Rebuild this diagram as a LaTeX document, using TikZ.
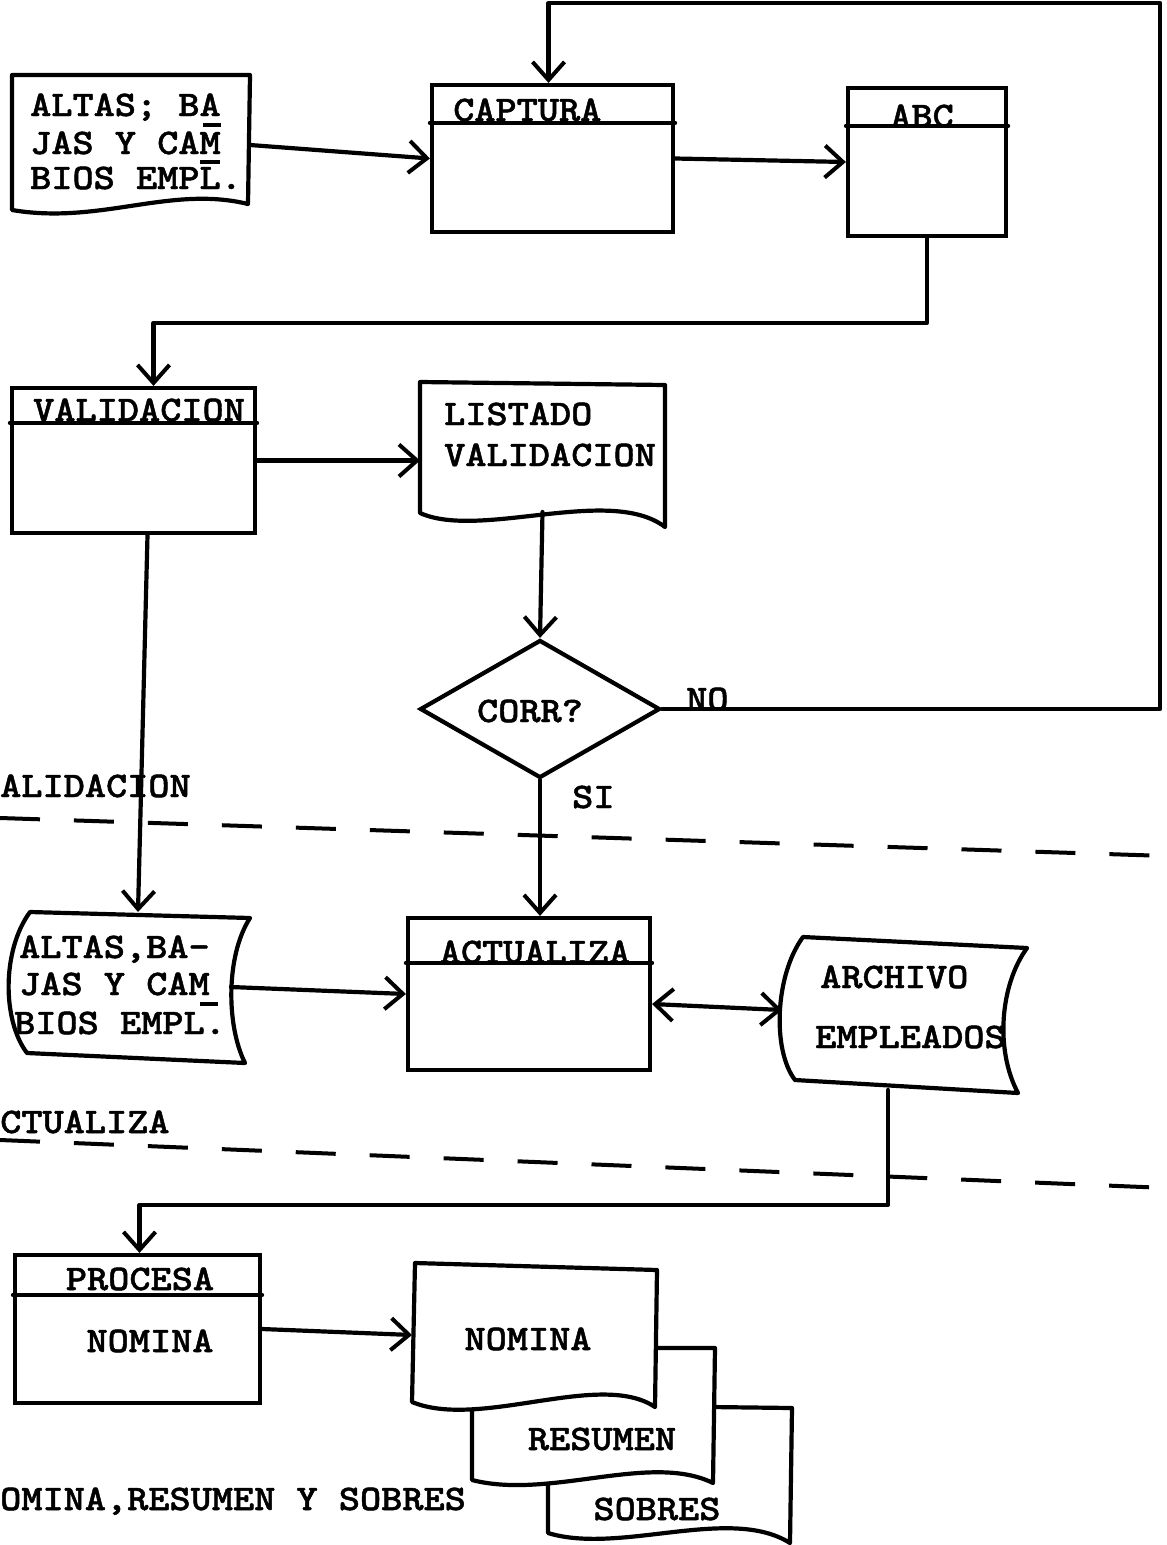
\documentclass[tikz,border=0pt]{standalone}
\usepackage{fontspec}
\newfontfamily\tw[Extension=.otf,FakeBold=1.3,FakeStretch=1.12]{lmmonolt10-bold}
\usetikzlibrary{arrows.meta,calc,shapes.geometric}
\begin{document}
\begin{tikzpicture}[x=1pt,y=-1pt,
  >={Straight Barb[length=18pt,width=32pt,line width=4pt]},
  ln/.style={line width=4.2pt,line cap=round,line join=round},
  arr/.style={ln,->},
  box/.style={draw,line width=4.2pt,inner sep=0pt,fill=white},
  ghost/.style={draw=none,inner sep=0pt,outer sep=0pt},
  txt/.style={font=\tw\fontsize{36}{40}\selectfont,inner sep=0pt},
  sep/.style={line width=4pt,dash pattern=on 40pt off 34pt},
  ul/.style={line width=3.5pt},
]
\useasboundingbox (0,0) rectangle (1167,1545);

% ---------- row 1 ----------
\node[ghost,minimum width=238pt,minimum height=140pt] (d1) at (131,145) {};
\draw[ln,fill=white] (12,75) -- (250,75) -- (248,204) .. controls (170,185) and (100,225) .. (12,210) -- cycle;
\node[txt,anchor=base west] (d1a) at (30,116) {ALTAS; BA};
\node[txt,anchor=base west] (d1b) at (30,154) {JAS Y CAM};
\node[txt,anchor=base west] (d1c) at (30,189) {BIOS EMPL.};
\draw[ul] (203,125) -- (221,125);
\draw[ul] (200,162) -- (220,162);

\node[box,minimum width=241pt,minimum height=147pt] (cap) at (552.5,158.5) {};
\draw[ln] ($(cap.north west)+(0,40)$) -- ($(cap.north east)+(0,40)$);
\node[txt,anchor=base west] (capt) at (453,121) {CAPTURA};

\node[box,minimum width=158pt,minimum height=148pt] (abc) at (927,162) {};
\draw[ln] ($(abc.north west)+(0,40)$) -- ($(abc.north east)+(0,40)$);
\node[txt,anchor=base] (abct) at (922,127) {ABC};

% ---------- row 2 ----------
\node[box,minimum width=243pt,minimum height=145pt] (val) at (133.5,460.5) {};
\draw[ln] ($(val.north west)+(0,37)$) -- ($(val.north east)+(0,37)$);
\node[txt,anchor=base west] (valt) at (33,421) {VALIDACION};

\node[ghost,minimum width=245pt,minimum height=130pt] (lis) at (542.5,447) {};
\draw[ln,fill=white] (420,382) -- (665,385) -- (665,527) .. controls (610,485) and (480,540) .. (420,513) -- cycle;
\node[txt,anchor=base west] (lisa) at (444,425) {LISTADO};
\node[txt,anchor=base west] (lisb) at (444,466) {VALIDACION};

% ---------- decision ----------
\node[draw,diamond,aspect=1.74,minimum width=240pt,minimum height=138pt,line width=4.2pt,inner sep=0pt] (dia) at (540,709) {};
\node[txt,anchor=base] (diat) at (530,722) {CORR?};
\node[txt,anchor=base west] (no) at (686,710) {NO};
\node[txt,anchor=base west] (si) at (572,808) {SI};

% ---------- section labels and separators ----------
\node[txt,anchor=base west] (lab1) at (0,797) {ALIDACION};
\coordinate (s1a) at (0,818);
\coordinate (s1b) at (1167,856);
\draw[sep] (s1a) -- (s1b);

\node[txt,anchor=base west] (lab2) at (0,1133) {CTUALIZA};
\coordinate (s2a) at (0,1140);
\coordinate (s2b) at (1167,1188);
\draw[sep] (s2a) -- (s2b);

\node[txt,anchor=base west] (lab3) at (0,1510) {OMINA,RESUMEN Y SOBRES};

% ---------- row 3 ----------
\node[ghost,minimum width=222pt,minimum height=150pt] (d2) at (138,987) {};
\draw[ln,fill=white] (30,912) -- (250,918) .. controls (226,955) and (226,1025) .. (245,1063)
  -- (27,1053) .. controls (2,1020) and (2,950) .. (30,912) -- cycle;
\node[txt,anchor=base west] (d2a) at (19,958) {ALTAS,BA-};
\node[txt,anchor=base west] (d2b) at (19,995) {JAS Y CAM};
\node[txt,anchor=base west] (d2c) at (14,1034) {BIOS EMPL.};
\draw[ul] (200,1004) -- (218,1004);

\node[box,minimum width=242pt,minimum height=152pt] (act) at (529,994) {};
\draw[ln] ($(act.north west)+(0,47)$) -- ($(act.north east)+(0,47)$);
\node[txt,anchor=base] (actt) at (535,963) {ACTUALIZA};

\node[ghost,minimum width=230pt,minimum height=150pt] (arc) at (905,1015) {};
\draw[ln,fill=white] (803,937) -- (1027,948) .. controls (1000,985) and (995,1050) .. (1018,1093)
  -- (795,1080) .. controls (772,1050) and (775,975) .. (803,937) -- cycle;
\node[txt,anchor=base west] (arca) at (820,988) {ARCHIVO};
\node[txt,anchor=base west] (arcb) at (815,1048) {EMPLEADOS};

% ---------- row 4 ----------
\node[box,minimum width=245pt,minimum height=148pt] (pro) at (137.5,1329) {};
\draw[ln] ($(pro.north west)+(0,42)$) -- ($(pro.north east)+(0,42)$);
\node[txt,anchor=base] (prot) at (140,1290) {PROCESA};
\node[txt,anchor=base] (pron) at (150,1352) {NOMINA};

\node[ghost,minimum width=245pt,minimum height=140pt] (nom) at (534.5,1335) {};
\draw[ln,fill=white] (548,1405) -- (792,1408) -- (790,1543) .. controls (730,1505) and (620,1555) .. (548,1533) -- cycle;
\node[txt,anchor=base] (sobt) at (657,1520) {SOBRES};
\draw[ln,fill=white] (472,1348) -- (715,1348) -- (713,1483) .. controls (650,1452) and (550,1500) .. (472,1480) -- cycle;
\node[txt,anchor=base] (rest) at (602,1450) {RESUMEN};
\draw[ln,fill=white] (415,1263) -- (657,1270) -- (655,1407) .. controls (600,1370) and (480,1430) .. (412,1402) -- cycle;
\node[txt,anchor=base] (nomt) at (528,1350) {NOMINA};

% ---------- connectors ----------
\coordinate (loopR) at (1160,715);
\coordinate (loopT) at (1160,3);
\draw[arr] (d1.east) -- (cap.west);
\draw[arr] (cap.east) -- (abc.west);
\draw[arr] (abc.south) |- ($(val.north)+(20,-63)$) -- ($(val.north)+(20,0)$);
\draw[arr] (val.east) -- (val.east -| lis.west);
\draw[arr] (lis.south) -- (dia.north);
\draw[arr] (dia.east) -- (dia.east -| loopR) -- (loopT) -- ($(loopT -| cap.north)+(-4,0)$) -- ($(cap.north)+(-4,0)$);
\draw[arr] (dia.south) -- (dia.south |- act.north);
\draw[arr] ($(val.south)+(14,0)$) -- (d2.north);
\draw[arr] ($(d2.east)+(-18,0)$) -- (act.west);
\draw[ln,<->] ($(act.east)+(0,10)$) -- ($(arc.west)+(-8,-5)$);
\draw[arr] ($(arc.south)+(-17,0)$) |- ($(pro.north)+(2,-48)$) -- ($(pro.north)+(2,0)$);
\draw[arr] (pro.east) -- (nom.west);
\end{tikzpicture}
\end{document}
